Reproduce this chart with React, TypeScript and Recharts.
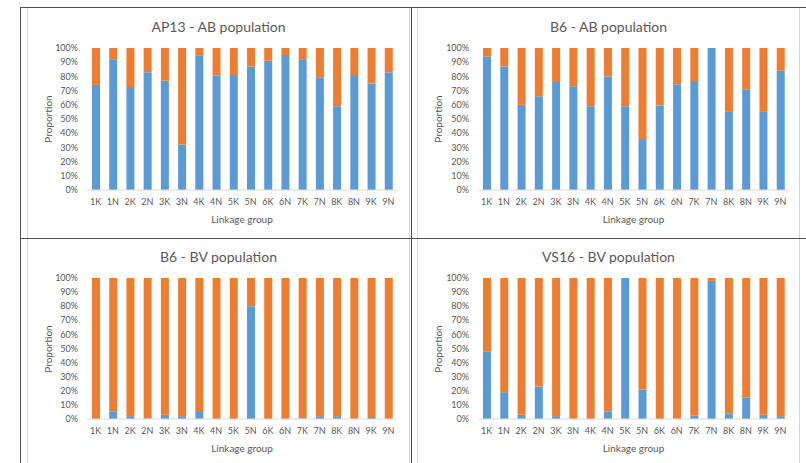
import React from 'react';
import { BarChart, Bar, XAxis, YAxis } from 'recharts';

const categories = ['1K', '1N', '2K', '2N', '3K', '3N', '4K', '4N', '5K', '5N', '6K', '6N', '7K', '7N', '8K', '8N', '9K', '9N'];
const yTicks = [0, 10, 20, 30, 40, 50, 60, 70, 80, 90, 100];

const ap13AbBlue = [74, 92, 72.5, 83, 77, 32, 94.5, 80.5, 81, 87, 91, 95, 92, 79, 59, 81, 75, 83];
const ap13AbOrange = [26, 8, 27.5, 17, 23, 68, 5.5, 19.5, 19, 13, 9, 5, 8, 21, 41, 19, 25, 17];

const b6AbBlue = [94, 87, 60, 66, 76, 73, 59, 80, 59, 36, 59.5, 74.5, 76, 100, 55, 71, 55, 84];
const b6AbOrange = [6, 13, 40, 34, 24, 27, 41, 20, 41, 64, 40.5, 25.5, 24, 0, 45, 29, 45, 16];

const b6BvBlue = [0, 5.5, 2, 0.5, 3, 2, 5, 0, 0, 80, 0, 0, 0.5, 2, 2, 0, 1.5, 0];
const b6BvOrange = [100, 94.5, 98, 99.5, 97, 98, 95, 100, 100, 20, 100, 100, 99.5, 98, 98, 100, 98.5, 100];

const vs16BvBlue = [48, 19, 3, 23, 2, 0, 0, 5.5, 100, 21, 0, 0, 2.5, 98, 4, 15, 3, 2];
const vs16BvOrange = [52, 81, 97, 77, 98, 100, 100, 94.5, 0, 79, 100, 100, 97.5, 2, 96, 85, 97, 98];

const FONT = 'Lato, "Open Sans", sans-serif';
const TEXT = '#595959';
const BLUE = '#5B9BD5';
const ORANGE = '#ED7D31';

type PanelProps = {
  title: string;
  blue: number[];
  orange: number[];
  left: number;
  top: number;
  width: number;
  height: number;
  plotLeft: number;
  plotRight: number;
  plotTop: number;
  plotBottom: number;
};

function Panel(p: PanelProps) {
  const data = categories.map((c, i) => ({ cat: c, blue: p.blue[i], orange: p.orange[i] }));
  const mLeft = p.plotLeft - p.left;
  const mRight = p.left + p.width - p.plotRight;
  const mTop = p.plotTop - p.top;
  const mBottom = p.top + p.height - p.plotBottom;
  const cx = (p.plotLeft + p.plotRight) / 2;
  return (
    <>
      <div
        style={{
          position: 'absolute',
          left: p.left,
          top: p.top,
          width: p.width,
          height: p.height,
          boxSizing: 'border-box',
          borderLeft: '1px solid #d9d9d9',
          borderRight: '1px solid #d9d9d9',
          background: '#fff',
        }}
      />
      <div style={{ position: 'absolute', left: p.left, top: p.top }}>
        <BarChart
          width={p.width}
          height={p.height}
          data={data}
          margin={{ top: mTop, right: mRight, bottom: 0, left: 0 }}
          barSize={8}
        >
          <XAxis
            dataKey="cat"
            height={mBottom}
            interval={0}
            tickLine={false}
            axisLine={{ stroke: '#d9d9d9' }}
            tickSize={6}
            tickMargin={3}
            tick={{ fill: TEXT, fontSize: 9, fontFamily: FONT }}
          />
          <YAxis
            width={mLeft}
            domain={[0, 100]}
            ticks={yTicks}
            interval={0}
            tickFormatter={(v: number) => `${v}%`}
            tickLine={false}
            axisLine={false}
            tickSize={6}
            tickMargin={3}
            tick={{ fill: TEXT, fontSize: 9, fontFamily: FONT }}
          />
          <Bar dataKey="blue" stackId="a" fill={BLUE} isAnimationActive={false} />
          <Bar dataKey="orange" stackId="a" fill={ORANGE} isAnimationActive={false} />
        </BarChart>
      </div>
      <div
        style={{
          position: 'absolute',
          left: p.left,
          width: p.width,
          top: p.plotTop - 30,
          textAlign: 'center',
          fontFamily: FONT,
          fontSize: 14,
          color: TEXT,
          lineHeight: '18px',
        }}
      >
        {p.title}
      </div>
      <div
        style={{
          position: 'absolute',
          left: cx - 60,
          width: 120,
          top: p.plotBottom + 22,
          textAlign: 'center',
          fontFamily: FONT,
          fontSize: 10,
          color: TEXT,
          lineHeight: '14px',
        }}
      >
        Linkage group
      </div>
      <div
        style={{
          position: 'absolute',
          left: p.left + 21 - 40,
          width: 80,
          top: (p.plotTop + p.plotBottom) / 2 - 7,
          textAlign: 'center',
          fontFamily: FONT,
          fontSize: 10,
          color: TEXT,
          lineHeight: '14px',
          transform: 'rotate(-90deg)',
        }}
      >
        Proportion
      </div>
    </>
  );
}

const LINE = '#505050';

export default function App() {
  return (
    <div style={{ position: 'absolute', left: 0, top: 0, width: 806, height: 463, background: '#fff', overflow: 'hidden' }}>
      <Panel title="AP13 - AB population" blue={ap13AbBlue} orange={ap13AbOrange}
        left={27} top={8} width={383} height={230} plotLeft={87} plotRight={397} plotTop={48} plotBottom={190} />
      <Panel title="B6 - AB population" blue={b6AbBlue} orange={b6AbOrange}
        left={417} top={8} width={383} height={230} plotLeft={478} plotRight={789} plotTop={48} plotBottom={190} />
      <Panel title="B6 - BV population" blue={b6BvBlue} orange={b6BvOrange}
        left={27} top={239} width={383} height={224} plotLeft={87} plotRight={397} plotTop={278} plotBottom={419} />
      <Panel title="VS16 - BV population" blue={vs16BvBlue} orange={vs16BvOrange}
        left={417} top={239} width={383} height={224} plotLeft={478} plotRight={789} plotTop={278} plotBottom={419} />
      <div style={{ position: 'absolute', left: 21, top: 7, width: 785, height: 1, background: LINE }} />
      <div style={{ position: 'absolute', left: 21, top: 238, width: 785, height: 1, background: LINE }} />
      <div style={{ position: 'absolute', left: 20, top: 7, width: 1, height: 456, background: LINE }} />
      <div style={{ position: 'absolute', left: 411, top: 7, width: 1, height: 456, background: LINE }} />
    </div>
  );
}
